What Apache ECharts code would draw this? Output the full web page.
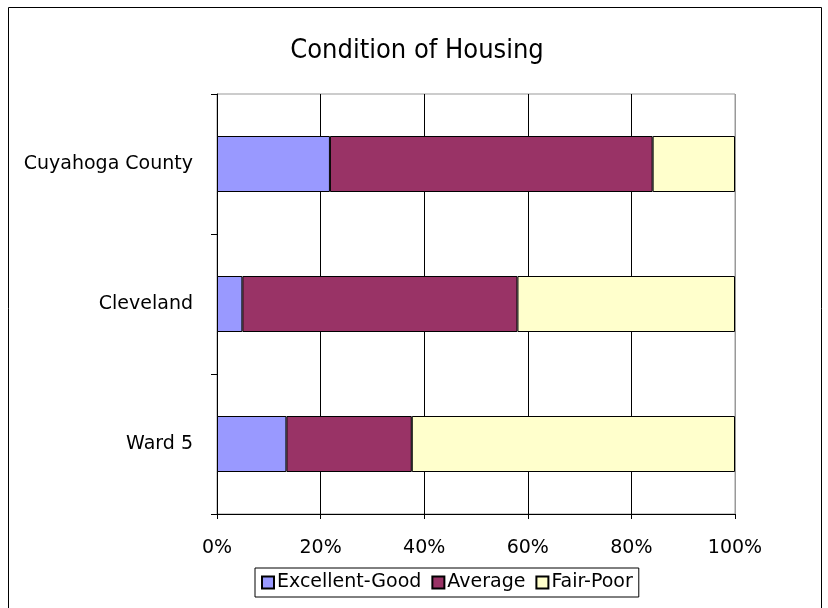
<!DOCTYPE html>
<html>
<head>
<meta charset="utf-8">
<script src="https://cdn.jsdelivr.net/npm/echarts@6/dist/echarts.min.js"></script>
<style>
  html, body { margin: 0; padding: 0; background: #fff; }
  #chart-housing { width: 828px; height: 608px; }
</style>
</head>
<body>
<div id="chart-housing"></div>
<script>
'use strict';

// categories, bottom to top as the y axis draws them
var areas = ['Ward 5', 'Cleveland', 'Cuyahoga County'];
var excellentGood = [13.4, 4.9, 21.8];
var average = [24.2, 53.1, 62.3];
var fairPoor = [62.4, 42.0, 15.9];
var percentTicks = ['0%', '20%', '40%', '60%', '80%', '100%'];

var chartHousing = echarts.init(document.getElementById('chart-housing'));

function barSeries(name, data, color) {
    return {
        name: name,
        type: 'bar',
        stack: 'total',
        data: data,
        barCategoryGap: '60%',
        itemStyle: { color: color, borderColor: '#000', borderWidth: 1 }
    };
}

chartHousing.setOption({
    animation: false,
    textStyle: { fontFamily: 'DejaVu Sans, Arial, sans-serif', color: '#000' },
    title: {
        text: 'Condition of Housing',
        left: 412,
        top: 32,
        textAlign: 'center',
        textStyle: { fontSize: 27, fontWeight: 'normal', color: '#000', fontFamily: 'DejaVu Sans Condensed, DejaVu Sans, Arial' }
    },
    legend: {
        bottom: 11,
        left: 255,
        icon: 'rect',
        itemWidth: 12,
        itemHeight: 12,
        itemGap: 10,
        padding: [5, 6, 5, 6],
        borderColor: '#000',
        borderWidth: 1,
        borderRadius: 0,
        textStyle: { fontSize: 19, color: '#000', padding: [0, 0, 0, -2] },
        data: ['Excellent-Good', 'Average', 'Fair-Poor']
    },
    graphic: [{
        type: 'rect',
        shape: { x: 8.5, y: 7.5, width: 813, height: 620 },
        style: { fill: 'none', stroke: '#000', lineWidth: 1 },
        silent: true,
        z: -1
    }],
    grid: {
        left: 217,
        right: 93,
        top: 94,
        bottom: 94,
        show: true,
        borderColor: '#999',
        borderWidth: 1
    },
    xAxis: {
        type: 'value',
        min: 0,
        max: 100,
        interval: 20,
        axisLine: { show: true, lineStyle: { color: '#000' } },
        axisTick: { show: true, length: 5, lineStyle: { color: '#000' } },
        axisLabel: {
            fontSize: 19,
            color: '#000',
            margin: 25,
            formatter: function (v) { return percentTicks[v / 20]; }
        },
        splitLine: { show: true, lineStyle: { color: ['#000', '#000', '#000', '#000', '#000', '#999'] } }
    },
    yAxis: {
        type: 'category',
        data: areas,
        axisLine: { show: true, lineStyle: { color: '#000' } },
        axisTick: { show: true, length: 6, inside: false, lineStyle: { color: '#000' } },
        axisLabel: { fontSize: 19, color: '#000', margin: 24 }
    },
    series: [
        barSeries('Excellent-Good', excellentGood, '#9999ff'),
        barSeries('Average', average, '#993366'),
        barSeries('Fair-Poor', fairPoor, '#ffffcc')
    ]
});
</script>
</body>
</html>
